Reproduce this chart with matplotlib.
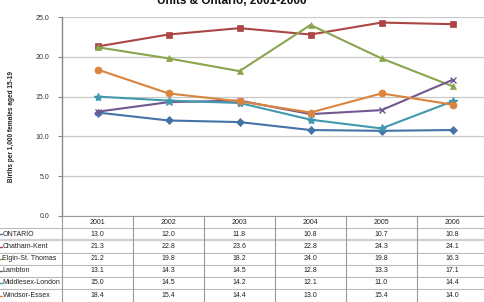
import matplotlib
matplotlib.use("Agg")
import matplotlib.pyplot as plt
from matplotlib.lines import Line2D

years = ["2001", "2002", "2003", "2004", "2005", "2006"]
series_names = ["ONTARIO", "Chatham-Kent", "Elgin-St. Thomas", "Lambton", "Middlesex-London", "Windsor-Essex"]
ontario = [13.0, 12.0, 11.8, 10.8, 10.7, 10.8]
chatham = [21.3, 22.8, 23.6, 22.8, 24.3, 24.1]
elgin = [21.2, 19.8, 18.2, 24.0, 19.8, 16.3]
lambton = [13.1, 14.3, 14.5, 12.8, 13.3, 17.1]
middlesex = [15.0, 14.5, 14.2, 12.1, 11.0, 14.4]
windsor = [18.4, 15.4, 14.4, 13.0, 15.4, 14.0]
yticks = [0.0, 5.0, 10.0, 15.0, 20.0, 25.0]

values = [ontario, chatham, elgin, lambton, middlesex, windsor]
colors = ["#4572A7", "#AA4643", "#89A54E", "#71588F", "#4198AF", "#DB843D"]
markers = ["D", "s", "^", "x", "*", "o"]
msizes = [4, 5, 5, 5, 6, 5]

W, H = 484, 302
fig = plt.figure(figsize=(W / 100, H / 100), dpi=100)
fig.patch.set_facecolor("white")
FONT = "Liberation Sans"

# plot area in pixels
x0, x1 = 62, 488
ytop, ybot = 17, 216
ax = fig.add_axes([x0 / W, (H - ybot) / H, (x1 - x0) / W, (ybot - ytop) / H])
ax.set_xlim(-0.5, len(years) - 0.5)
ax.set_ylim(0, 25)
ax.set_yticks(yticks)
ax.set_yticklabels([f"{v:.1f}" for v in yticks], fontsize=5, family=FONT, color="#333333")
ax.set_xticks([])
for s in ["top", "right", "bottom"]:
    ax.spines[s].set_visible(False)
ax.spines["left"].set_color("#888888")
ax.spines["left"].set_linewidth(1.0)
ax.tick_params(axis="y", length=3, width=0.8, color="#888888", pad=6)
ax.grid(axis="y", color="#c8c8c8", linewidth=0.9)
ax.set_axisbelow(True)
ax.set_ylabel("Births per 1,000 females aged 15-19", fontsize=4.7, family=FONT,
              fontweight="bold", color="#222222")
ax.yaxis.set_label_coords(-(62 - 15) / (x1 - x0), (216 - 127) / (ybot - ytop))

xs = list(range(len(years)))
for vals, c, m, ms in zip(values, colors, markers, msizes):
    ax.plot(xs, vals, color=c, linewidth=1.5, marker=m, markersize=ms,
            markeredgewidth=1.0 if m in ("x", "*") else 0.5, markeredgecolor=c,
            clip_on=False)

# title (partially cut off at top, as in the reference)
fig.text(232 / W, 1 - 4 / H, "Units & Ontario, 2001-2006", ha="center", va="baseline",
         fontsize=8.5, fontweight="bold", family=FONT, color="#111111")

# table
tax = fig.add_axes([0, 0, 1, 1])
tax.set_xlim(0, W)
tax.set_ylim(H, 0)
tax.axis("off")
colw = (x1 - x0) / len(years)
row_tops = [216, 228, 240, 253, 265, 277, 289, 302]
for i, y in enumerate(years):
    cx = x0 + colw * (i + 0.5)
    tax.text(cx, (row_tops[0] + row_tops[1]) / 2, y, ha="center", va="center",
             fontsize=5, family=FONT, color="#222222")
for r, (name, vals, c) in enumerate(zip(series_names, values, colors)):
    yc = (row_tops[r + 1] + row_tops[r + 2]) / 2
    tax.add_line(Line2D([-4, 1.5], [yc, yc], color=c, linewidth=1.0))
    tax.text(2.5, yc, name, ha="left", va="center", fontsize=5, family=FONT, color="#222222")
    for i, v in enumerate(vals):
        cx = x0 + colw * (i + 0.5)
        tax.text(cx, yc, f"{v:.1f}", ha="center", va="center", fontsize=5,
                 family=FONT, color="#222222")
for k, y in enumerate(row_tops):
    if k == 0:
        tax.add_line(Line2D([x0, x1], [y, y], color="#999999", linewidth=0.8))
    elif k == 2:
        tax.add_line(Line2D([0, x1], [y, y], color="#d0d0d0", linewidth=1.6))
    else:
        tax.add_line(Line2D([0, x1], [y, y], color="#bbbbbb", linewidth=0.8))
for i in range(len(years) + 1):
    xv = x0 + colw * i
    tax.add_line(Line2D([xv, xv], [row_tops[0], row_tops[-1]], color="#999999", linewidth=0.8))

fig.savefig("out.png", dpi=100, facecolor="white")
